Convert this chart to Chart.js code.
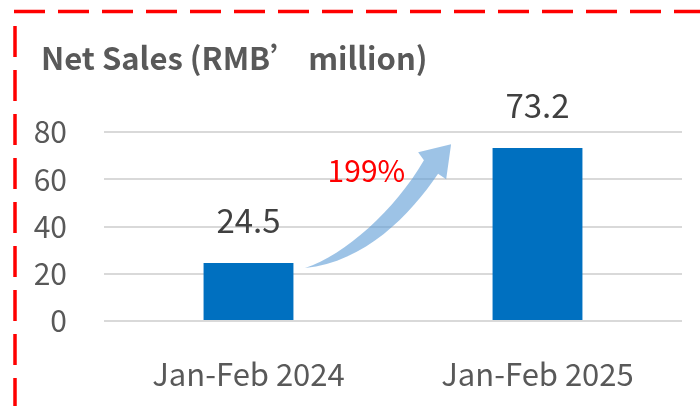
<!DOCTYPE html>
<html>
<head>
<meta charset="utf-8">
<script src="https://cdn.jsdelivr.net/npm/chart.js@4/dist/chart.umd.min.js"></script>
<style>
  html, body { margin: 0; padding: 0; background: #fff; }
  #wrap { width: 700px; height: 406px; position: relative; }
</style>
</head>
<body>
<div id="wrap"><canvas id="c" width="700" height="406"></canvas></div>
<script>
const categories = ["Jan-Feb 2024", "Jan-Feb 2025"];
const netSales = [24.5, 73.2];
const yTicks = [0, 20, 40, 60, 80];
const chartTitle = "Net Sales (RMB\u2019 million)";
const growthLabel = "199%";

const FONT = "'Noto Sans CJK SC', 'Noto Sans', sans-serif";

const decorPlugin = {
  id: 'decor',
  beforeDraw(chart) {
    const ctx = chart.ctx;
    ctx.save();
    ctx.strokeStyle = '#FF0000';
    ctx.lineWidth = 3.5;
    ctx.setLineDash([31, 13]);
    ctx.beginPath();
    ctx.moveTo(14, 11.5);
    ctx.lineTo(700, 11.5);
    ctx.stroke();
    ctx.beginPath();
    ctx.moveTo(15, 26);
    ctx.lineTo(15, 406);
    ctx.stroke();
    ctx.setLineDash([]);
    // title
    ctx.fillStyle = '#595959';
    ctx.font = "bold 31px " + FONT;
    ctx.textAlign = 'left';
    ctx.textBaseline = 'alphabetic';
    ctx.fillText(chartTitle, 41, 70);
    ctx.restore();
  },
  afterDatasetsDraw(chart) {
    const ctx = chart.ctx;
    const xs = chart.scales.x, ys = chart.scales.y;
    const meta = chart.getDatasetMeta(0);
    ctx.save();
    // value labels
    ctx.fillStyle = '#404040';
    ctx.font = "33px " + FONT;
    ctx.textAlign = 'center';
    ctx.textBaseline = 'alphabetic';
    meta.data.forEach((bar, i) => {
      ctx.fillText(String(netSales[i]), bar.x, bar.y - 30);
    });
    // growth arrow, positioned relative to the two categories
    const x0 = xs.getPixelForValue(0), dx = xs.getPixelForValue(1) - x0;
    const P = (fx, v) => [x0 + fx * dx, ys.getPixelForValue(v)];
    const S = P(0.1955, 22.4);
    const u1 = P(0.334, 27.9), u2 = P(0.507, 46.9), uE = P(0.607, 68.0);
    const wU = P(0.587, 71.4), tip = P(0.701, 74.8), wL = P(0.684, 60.0);
    const lE = P(0.656, 62.3), l2 = P(0.559, 44.8), l1 = P(0.403, 24.9);
    ctx.fillStyle = 'rgba(91,155,213,0.6)';
    ctx.beginPath();
    ctx.moveTo(S[0], S[1]);
    ctx.bezierCurveTo(u1[0], u1[1], u2[0], u2[1], uE[0], uE[1]);
    ctx.lineTo(wU[0], wU[1]);
    ctx.lineTo(tip[0], tip[1]);
    ctx.lineTo(wL[0], wL[1]);
    ctx.lineTo(lE[0], lE[1]);
    ctx.bezierCurveTo(l2[0], l2[1], l1[0], l1[1], S[0], S[1]);
    ctx.closePath();
    ctx.fill();
    // growth label
    const g = P(0.408, 58.8);
    ctx.fillStyle = '#FF0000';
    ctx.font = "30px " + FONT;
    ctx.textAlign = 'center';
    ctx.textBaseline = 'alphabetic';
    ctx.fillText(growthLabel, g[0], g[1]);
    ctx.restore();
  }
};

new Chart(document.getElementById('c'), {
  type: 'bar',
  data: {
    labels: categories,
    datasets: [{
      data: netSales,
      backgroundColor: '#0070C0',
      borderWidth: 0,
      barPercentage: 0.311,
      categoryPercentage: 1.0
    }]
  },
  options: {
    responsive: false,
    animation: false,
    events: [],
    layout: { padding: { top: 132, right: 18, left: 0, bottom: 0 } },
    plugins: { legend: { display: false }, tooltip: { enabled: false }, title: { display: false } },
    scales: {
      x: {
        grid: { display: false },
        border: { display: false },
        ticks: { color: '#595959', font: { family: FONT, size: 31 }, padding: 27, maxRotation: 0 },
        afterFit(scale) { scale.height = 85; }
      },
      y: {
        min: 0, max: 80,
        afterBuildTicks(scale) { scale.ticks = yTicks.map(v => ({ value: v })); },
        grid: { color: '#D9D9D9', lineWidth: 2, drawTicks: false },
        border: { display: false },
        ticks: { color: '#595959', font: { family: FONT, size: 30 }, padding: 37 },
        afterFit(scale) { scale.width = 104; }
      }
    }
  },
  plugins: [decorPlugin]
});
</script>
</body>
</html>
